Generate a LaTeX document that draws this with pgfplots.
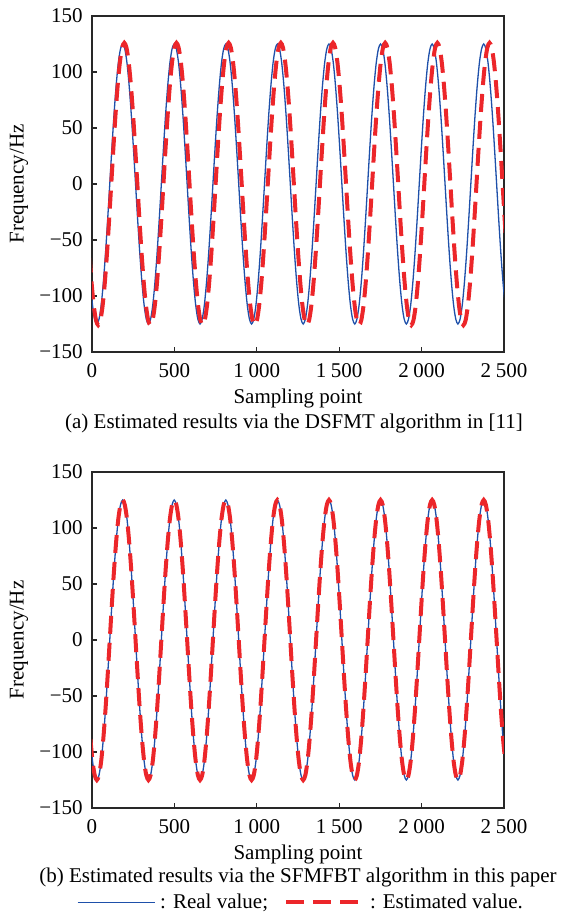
\documentclass[border=0pt]{standalone}
\usepackage{fontspec}
\setmainfont{Liberation Serif}
\usepackage{pgfplots}
\usepackage{pgfplotstable}
\pgfplotsset{compat=1.18}
\definecolor{realblue}{RGB}{30,80,170}
\definecolor{estred}{RGB}{236,38,42}
\definecolor{axgray}{RGB}{40,40,40}

% Real value (blue)
\pgfplotstableread[row sep=\\]{
x y\\
-9.6 -88.4\\ 3.4 -108.3\\ 16.5 -120.7\\ 29.5 -125\\ 42.5 -120.7\\ 55.6 -108.3\\ 68.6 -88.4\\ 81.7 -62.5\\ 94.7 -32.4\\ 107.8 0\\ 120.8 32.4\\ 133.8 62.5\\ 146.9 88.4\\ 159.9 108.3\\ 173.0 120.7\\
186.0 125\\ 199.0 120.7\\ 212.1 108.3\\ 225.1 88.4\\ 238.2 62.5\\ 251.2 32.4\\ 264.3 0\\ 277.3 -32.4\\ 290.3 -62.5\\ 303.4 -88.4\\ 316.4 -108.3\\ 329.5 -120.7\\ 342.5 -125\\ 355.5 -120.7\\ 368.6 -108.3\\ 381.6 -88.4\\ 394.7 -62.5\\ 407.7 -32.4\\ 420.8 0\\ 433.8 32.4\\ 446.8 62.5\\ 459.9 88.4\\ 472.9 108.3\\ 486.0 120.7\\
499.0 125\\ 512.0 120.7\\ 525.1 108.3\\ 538.1 88.4\\ 551.2 62.5\\ 564.2 32.4\\ 577.3 0\\ 590.3 -32.4\\ 603.3 -62.5\\ 616.4 -88.4\\ 629.4 -108.3\\ 642.5 -120.7\\ 655.5 -125\\ 668.5 -120.7\\ 681.6 -108.3\\ 694.6 -88.4\\ 707.7 -62.5\\ 720.7 -32.4\\ 733.8 0\\ 746.8 32.4\\ 759.8 62.5\\ 772.9 88.4\\ 785.9 108.3\\ 799.0 120.7\\
812.0 125\\ 825.0 120.7\\ 838.1 108.3\\ 851.1 88.4\\ 864.2 62.5\\ 877.2 32.4\\ 890.3 0\\ 903.3 -32.4\\ 916.3 -62.5\\ 929.4 -88.4\\ 942.4 -108.3\\ 955.5 -120.7\\ 968.5 -125\\ 981.5 -120.7\\ 994.6 -108.3\\ 1007.6 -88.4\\ 1020.7 -62.5\\ 1033.7 -32.4\\ 1046.8 0\\ 1059.8 32.4\\ 1072.8 62.5\\ 1085.9 88.4\\ 1098.9 108.3\\ 1112.0 120.7\\
1125.0 125\\ 1138.0 120.7\\ 1151.1 108.3\\ 1164.1 88.4\\ 1177.2 62.5\\ 1190.2 32.4\\ 1203.3 0\\ 1216.3 -32.4\\ 1229.3 -62.5\\ 1242.4 -88.4\\ 1255.4 -108.3\\ 1268.5 -120.7\\ 1281.5 -125\\ 1294.5 -120.7\\ 1307.6 -108.3\\ 1320.6 -88.4\\ 1333.7 -62.5\\ 1346.7 -32.4\\ 1359.8 0\\ 1372.8 32.4\\ 1385.8 62.5\\ 1398.9 88.4\\ 1411.9 108.3\\ 1425.0 120.7\\
1438.0 125\\ 1451.0 120.7\\ 1464.1 108.3\\ 1477.1 88.4\\ 1490.2 62.5\\ 1503.2 32.4\\ 1516.3 0\\ 1529.3 -32.4\\ 1542.3 -62.5\\ 1555.4 -88.4\\ 1568.4 -108.3\\ 1581.5 -120.7\\ 1594.5 -125\\ 1607.5 -120.7\\ 1620.6 -108.3\\ 1633.6 -88.4\\ 1646.7 -62.5\\ 1659.7 -32.4\\ 1672.8 0\\ 1685.8 32.4\\ 1698.8 62.5\\ 1711.9 88.4\\ 1724.9 108.3\\ 1738.0 120.7\\
1751.0 125\\ 1764.0 120.7\\ 1777.1 108.3\\ 1790.1 88.4\\ 1803.2 62.5\\ 1816.2 32.4\\ 1829.3 0\\ 1842.3 -32.4\\ 1855.3 -62.5\\ 1868.4 -88.4\\ 1881.4 -108.3\\ 1894.5 -120.7\\ 1907.5 -125\\ 1920.5 -120.7\\ 1933.6 -108.3\\ 1946.6 -88.4\\ 1959.7 -62.5\\ 1972.7 -32.4\\ 1985.8 0\\ 1998.8 32.4\\ 2011.8 62.5\\ 2024.9 88.4\\ 2037.9 108.3\\ 2051.0 120.7\\
2064.0 125\\ 2077.0 120.7\\ 2090.1 108.3\\ 2103.1 88.4\\ 2116.2 62.5\\ 2129.2 32.4\\ 2142.3 0\\ 2155.3 -32.4\\ 2168.3 -62.5\\ 2181.4 -88.4\\ 2194.4 -108.3\\ 2207.5 -120.7\\ 2220.5 -125\\ 2233.5 -120.7\\ 2246.6 -108.3\\ 2259.6 -88.4\\ 2272.7 -62.5\\ 2285.7 -32.4\\ 2298.8 0\\ 2311.8 32.4\\ 2324.8 62.5\\ 2337.9 88.4\\ 2350.9 108.3\\ 2364.0 120.7\\
2377.0 125\\ 2390.0 120.7\\ 2403.1 108.3\\ 2416.1 88.4\\ 2429.2 62.5\\ 2442.2 32.4\\ 2455.3 0\\ 2468.3 -32.4\\ 2481.3 -62.5\\ 2494.4 -88.4\\ 2507.4 -108.3\\
}\realdata

% Estimated value, DSFMT (red, top)
\pgfplotstableread[row sep=\\]{
x y\\
-15.1 -63.0\\ -1.9 -89.1\\ 11.3 -109.1\\ 24.5 -121.7\\ 37.7 -126\\ 50.9 -121.7\\ 64.1 -109.1\\ 77.3 -89.1\\ 90.5 -63.0\\ 103.7 -32.6\\ 116.9 0\\ 130.0 32.6\\ 143.2 63.0\\ 156.4 89.1\\ 169.6 109.1\\ 182.8 121.7\\
196.0 126\\ 209.2 121.7\\ 222.4 109.1\\ 235.6 89.1\\ 248.8 63.0\\ 262.0 32.6\\ 275.2 0\\ 288.3 -32.6\\ 301.5 -63.0\\ 314.7 -89.1\\ 327.9 -109.1\\ 341.1 -121.7\\ 354.3 -126\\ 367.5 -121.7\\ 380.7 -109.1\\ 393.9 -89.1\\ 407.1 -63.0\\ 420.3 -32.6\\ 433.5 0\\ 446.6 32.6\\ 459.8 63.0\\ 473.0 89.1\\ 486.2 109.1\\ 499.4 121.7\\
512.6 126\\ 525.8 121.7\\ 539.0 109.1\\ 552.2 89.1\\ 565.4 63.0\\ 578.6 32.6\\ 591.8 0\\ 604.9 -32.6\\ 618.1 -63.0\\ 631.3 -89.1\\ 644.5 -109.1\\ 657.7 -121.7\\ 670.9 -126\\ 684.1 -121.7\\ 697.3 -109.1\\ 710.5 -89.1\\ 723.7 -63.0\\ 736.9 -32.6\\ 750.1 0\\ 763.2 32.6\\ 776.4 63.0\\ 789.6 89.1\\ 802.8 109.1\\ 816.0 121.7\\
829.2 126\\ 842.4 121.7\\ 855.6 109.1\\ 868.8 89.1\\ 882.0 63.0\\ 895.2 32.6\\ 908.4 0\\ 921.5 -32.6\\ 934.7 -63.0\\ 947.9 -89.1\\ 961.1 -109.1\\ 974.3 -121.7\\ 987.5 -126\\ 1000.7 -121.7\\ 1013.9 -109.1\\ 1027.1 -89.1\\ 1040.3 -63.0\\ 1053.5 -32.6\\ 1066.7 0\\ 1079.8 32.6\\ 1093.0 63.0\\ 1106.2 89.1\\ 1119.4 109.1\\ 1132.6 121.7\\
1145.8 126\\ 1159.0 121.7\\ 1172.2 109.1\\ 1185.4 89.1\\ 1198.6 63.0\\ 1211.8 32.6\\ 1225.0 0\\ 1238.1 -32.6\\ 1251.3 -63.0\\ 1264.5 -89.1\\ 1277.7 -109.1\\ 1290.9 -121.7\\ 1304.1 -126\\ 1317.3 -121.7\\ 1330.5 -109.1\\ 1343.7 -89.1\\ 1356.9 -63.0\\ 1370.1 -32.6\\ 1383.3 0\\ 1396.4 32.6\\ 1409.6 63.0\\ 1422.8 89.1\\ 1436.0 109.1\\ 1449.2 121.7\\
1462.4 126\\ 1475.6 121.7\\ 1488.8 109.1\\ 1502.0 89.1\\ 1515.2 63.0\\ 1528.4 32.6\\ 1541.6 0\\ 1554.7 -32.6\\ 1567.9 -63.0\\ 1581.1 -89.1\\ 1594.3 -109.1\\ 1607.5 -121.7\\ 1620.7 -126\\ 1633.9 -121.7\\ 1647.1 -109.1\\ 1660.3 -89.1\\ 1673.5 -63.0\\ 1686.7 -32.6\\ 1699.9 0\\ 1713.0 32.6\\ 1726.2 63.0\\ 1739.4 89.1\\ 1752.6 109.1\\ 1765.8 121.7\\
1779.0 126\\ 1792.2 121.7\\ 1805.4 109.1\\ 1818.6 89.1\\ 1831.8 63.0\\ 1845.0 32.6\\ 1858.2 0\\ 1871.3 -32.6\\ 1884.5 -63.0\\ 1897.7 -89.1\\ 1910.9 -109.1\\ 1924.1 -121.7\\ 1937.3 -126\\ 1950.5 -121.7\\ 1963.7 -109.1\\ 1976.9 -89.1\\ 1990.1 -63.0\\ 2003.3 -32.6\\ 2016.5 0\\ 2029.6 32.6\\ 2042.8 63.0\\ 2056.0 89.1\\ 2069.2 109.1\\ 2082.4 121.7\\
2095.6 126\\ 2108.8 121.7\\ 2122.0 109.1\\ 2135.2 89.1\\ 2148.4 63.0\\ 2161.6 32.6\\ 2174.8 0\\ 2187.9 -32.6\\ 2201.1 -63.0\\ 2214.3 -89.1\\ 2227.5 -109.1\\ 2240.7 -121.7\\ 2253.9 -126\\ 2267.1 -121.7\\ 2280.3 -109.1\\ 2293.5 -89.1\\ 2306.7 -63.0\\ 2319.9 -32.6\\ 2333.1 0\\ 2346.2 32.6\\ 2359.4 63.0\\ 2372.6 89.1\\ 2385.8 109.1\\ 2399.0 121.7\\
2412.2 126\\ 2425.4 121.7\\ 2438.6 109.1\\ 2451.8 89.1\\ 2465.0 63.0\\ 2478.2 32.6\\ 2491.4 0\\ 2504.5 -32.6\\ 2517.7 -63.0\\
}\estdata

\pgfplotsset{
  myaxis/.style={
    scale only axis, width=206pt, height=168pt,
    xmin=0, xmax=2500, ymin=-150, ymax=150,
    xtick={0,500,1000,1500,2000,2500},
    xticklabels={0,500,1\hspace{0.22em}000,1\hspace{0.22em}500,2\hspace{0.22em}000,2\hspace{0.22em}500},
    ytick={-150,-100,-50,0,50,100,150},
    yticklabels={−150,−100,−50,0,50,100,150},
    tick pos=left, tick align=inside, major tick length=2.5pt,
    axis line style={axgray, line width=0.75pt},
    every tick/.style={axgray, line width=0.6pt},
    xticklabel style={anchor=base, yshift=-12.5pt, inner sep=0pt},
    yticklabel style={anchor=east, inner sep=0pt, xshift=-4.5pt},
    xlabel={Sampling point},
    ylabel={Frequency/Hz},
    xlabel style={at={(axis description cs:0.5,0)}, anchor=base, yshift=-25.5pt, inner sep=0pt},
    ylabel style={at={(axis description cs:-0.1772,0.5)}, anchor=center, inner sep=0pt},
  },
  realline/.style={realblue, line width=0.65pt, smooth},
  estline/.style={estred, line width=2pt, dash pattern=on 9pt off 4.5pt, smooth},
}

\begin{document}
\fontsize{10.5pt}{12.6pt}\selectfont
\begin{tikzpicture}
\path[use as bounding box] (-46pt,-284.5pt) rectangle (235pt,176pt);

\begin{axis}[myaxis, name=top, at={(0pt,0pt)}, anchor=south west]
  \addplot[realline] table[x=x, y=y] {\realdata};
  \addplot[estline] table[x=x, y=y] {\estdata};
\end{axis}
\node[anchor=base] at ([xshift=-2pt, yshift=-38pt]top.south) {(a) Estimated results via the DSFMT algorithm in [11]};

\begin{axis}[myaxis, name=bot, at={(0pt,-228pt)}, anchor=south west,
  legend style={at={(0.507,-0.281)}, anchor=center, draw=none, fill=none,
    legend columns=2, inner sep=0pt, nodes={inner sep=1pt},
    /tikz/every odd column/.append style={column sep=1.5pt},
    /tikz/every even column/.append style={column sep=7pt}},
  legend image code/.code={\draw[#1] (0pt,0pt) -- (38.5pt,0pt);}]
  \addplot[realline] table[x=x, y=y] {\realdata};
  \addlegendentry{: Real value;}
  \addplot[estline] table[x=x, y=y] {\realdata};
  \addlegendentry{: Estimated value.}
\end{axis}
\node[anchor=base] at ([yshift=-37pt]bot.south) {(b) Estimated results via the SFMFBT algorithm in this paper};
\end{tikzpicture}
\end{document}
